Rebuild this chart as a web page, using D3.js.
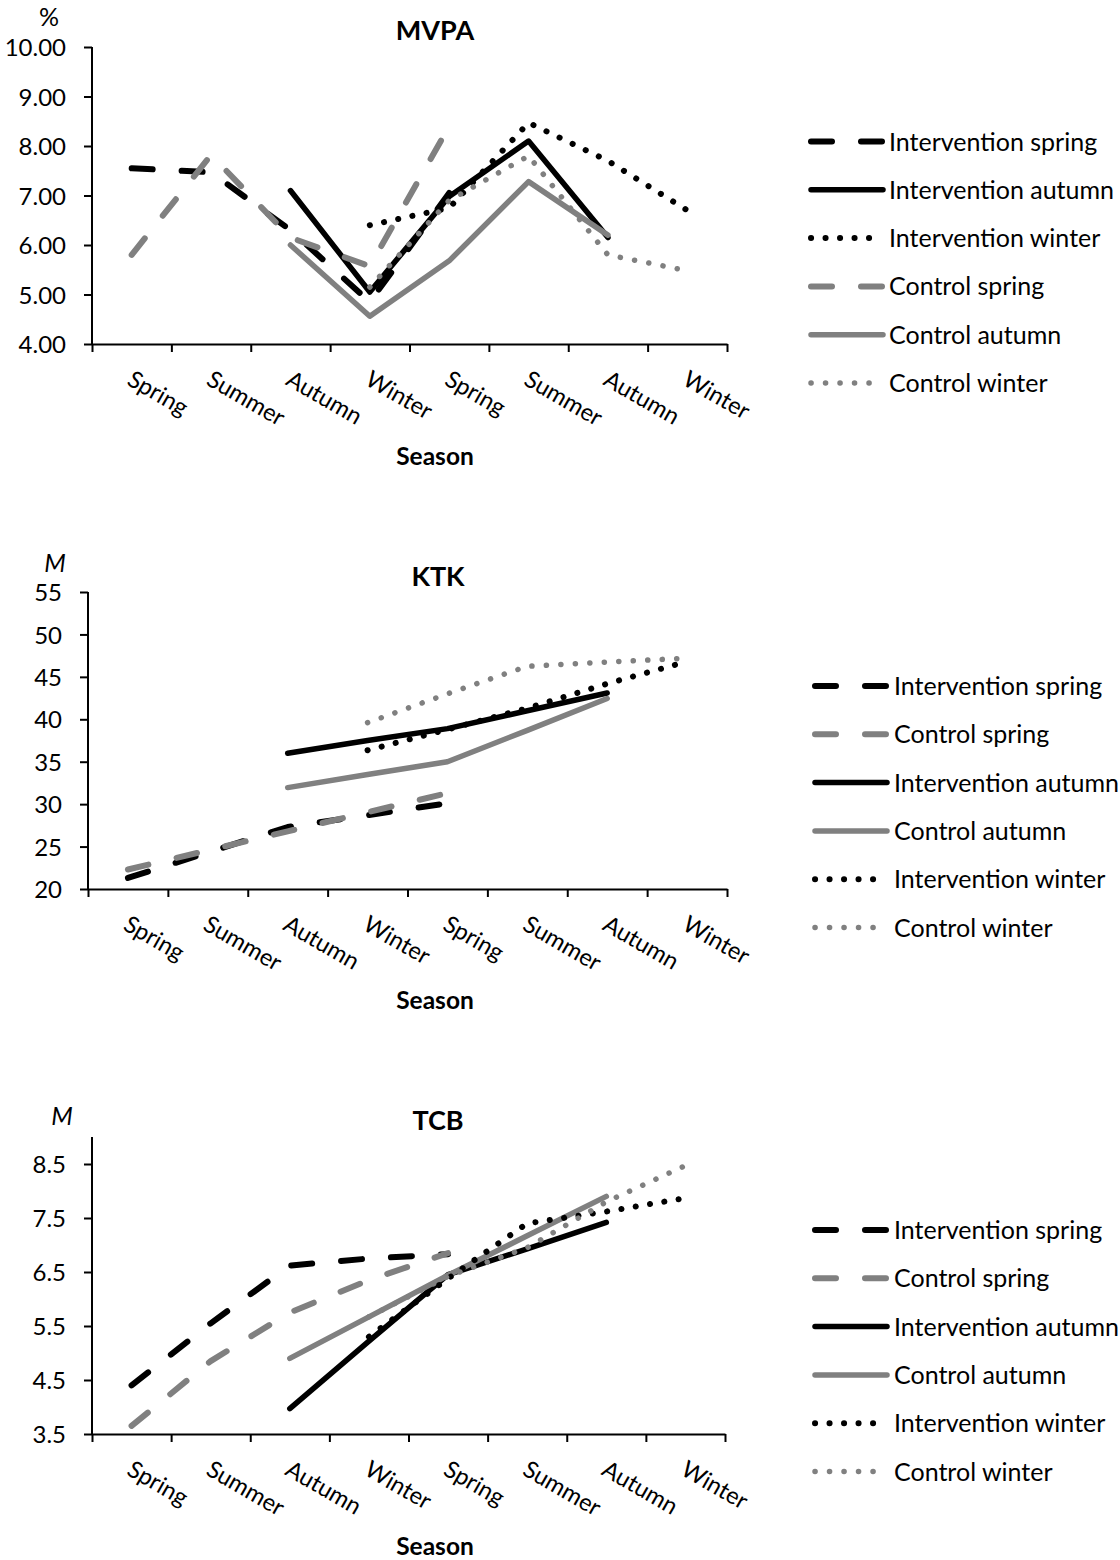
<!DOCTYPE html>
<html><head><meta charset="utf-8">
<script src="https://cdn.jsdelivr.net/npm/d3@7/dist/d3.min.js"></script>
<style>
body{margin:0;background:#fff}
svg{display:block}
text{font-family:Lato,"Open Sans",sans-serif;fill:#000}
</style>
</head><body>
<svg id="chart" width="1120" height="1560"></svg>
<script>
// ---------- DATA ----------
const seasons = ["Spring","Summer","Autumn","Winter","Spring","Summer","Autumn","Winter"];
const seriesNames = ["Intervention spring","Intervention autumn","Intervention winter","Control spring","Control autumn","Control winter"];

// MVPA (%)
const mvpaTicks = [4,5,6,7,8,9,10];
const mvpaInterventionSpring = [7.55,7.47,6.3,4.85,7.05,null,null,null];
const mvpaInterventionAutumn = [null,null,7.1,5.05,6.98,8.1,6.15,null];
const mvpaInterventionWinter = [null,null,null,6.4,6.75,8.47,7.7,6.7];
const mvpaControlSpring = [5.8,7.82,6.15,5.57,8.4,null,null,null];
const mvpaControlAutumn = [null,null,6.0,4.56,5.68,7.28,6.2,null];
const mvpaControlWinter = [null,null,null,5.15,6.9,7.8,5.8,5.48];

// KTK (M)
const ktkTicks = [20,25,30,35,40,45,50,55];
const ktkInterventionSpring = [21.3,24.3,27.3,28.7,30.1,null,null,null];
const ktkControlSpring = [22.3,24.55,26.8,29.05,31.3,null,null,null];
const ktkInterventionAutumn = [null,null,36.0,37.5,38.9,41.0,43.1,null];
const ktkControlAutumn = [null,null,31.95,33.5,35.0,38.7,42.45,null];
const ktkInterventionWinter = [null,null,null,36.35,38.8,41.3,44.2,46.8];
const ktkControlWinter = [null,null,null,39.6,43.0,46.25,46.75,47.2];

// TCB (M)
const tcbTicks = [3.5,4.5,5.5,6.5,7.5,8.5];
const tcbInterventionSpring = [4.4,5.55,6.62,6.75,6.83,null,null,null];
const tcbControlSpring = [3.65,4.85,5.75,6.35,6.85,null,null,null];
const tcbInterventionAutumn = [null,null,3.97,5.22,6.45,6.93,7.42,null];
const tcbControlAutumn = [null,null,4.9,5.67,6.44,7.17,7.9,null];
const tcbInterventionWinter = [null,null,null,5.3,6.38,7.4,7.62,7.87];
const tcbControlWinter = [null,null,null,5.67,6.42,6.95,7.8,8.47];

// ---------- STYLES ----------
const BLACK = "#000", GRAY = "#808080";
const styles = {
  "Intervention spring": {color:BLACK, type:"dash"},
  "Intervention autumn": {color:BLACK, type:"solid"},
  "Intervention winter": {color:BLACK, type:"dot"},
  "Control spring": {color:GRAY, type:"dash"},
  "Control autumn": {color:GRAY, type:"solid"},
  "Control winter": {color:GRAY, type:"dot"}
};
function applyStyle(sel, name){
  const s = styles[name];
  sel.attr("fill","none").attr("stroke",s.color)
     .attr("stroke-linecap","round").attr("stroke-linejoin","round");
  if (s.type==="dash") sel.attr("stroke-width",6).attr("stroke-dasharray","21 29");
  else if (s.type==="dot") sel.attr("stroke-width",s.color===BLACK?6:5.5).attr("stroke-dasharray","0.1 14.4");
  else sel.attr("stroke-width",5.5);
}

const svg = d3.select("#chart");

const panels = [
  {title:"MVPA", unit:"%", unitItalic:false, fmt:d3.format(".2f"), ticks:mvpaTicks, domain:[4,10],
   x0:92, x1:727, yTop:47, yBot:344, titleX:435, titleY:40, unitX:49, unitY:26, seasonY:465,
   legendX:811, legendTextX:889, legendY:141.5,
   series:[["Intervention spring",mvpaInterventionSpring],["Intervention autumn",mvpaInterventionAutumn],
           ["Intervention winter",mvpaInterventionWinter],["Control spring",mvpaControlSpring],
           ["Control autumn",mvpaControlAutumn],["Control winter",mvpaControlWinter]]},
  {title:"KTK", unit:"M", unitItalic:true, fmt:d3.format("d"), ticks:ktkTicks, domain:[20,55],
   x0:88, x1:727, yTop:592, yBot:889, titleX:438, titleY:586, unitX:55, unitY:572, seasonY:1009,
   legendX:815, legendTextX:894, legendY:686,
   series:[["Intervention spring",ktkInterventionSpring],["Control spring",ktkControlSpring],
           ["Intervention autumn",ktkInterventionAutumn],["Control autumn",ktkControlAutumn],
           ["Intervention winter",ktkInterventionWinter],["Control winter",ktkControlWinter]]},
  {title:"TCB", unit:"M", unitItalic:true, fmt:d3.format(".1f"), ticks:tcbTicks, domain:[3.5,9.0],
   x0:92, x1:725, yTop:1137, yBot:1434, titleX:438, titleY:1130, unitX:62, unitY:1125, seasonY:1555,
   legendX:815, legendTextX:894, legendY:1230,
   series:[["Intervention spring",tcbInterventionSpring],["Control spring",tcbControlSpring],
           ["Intervention autumn",tcbInterventionAutumn],["Control autumn",tcbControlAutumn],
           ["Intervention winter",tcbInterventionWinter],["Control winter",tcbControlWinter]]}
];

panels.forEach(p => {
  const g = svg.append("g");
  const idx = d3.range(seasons.length);
  const xBand = d3.scaleBand().domain(idx).range([p.x0,p.x1]);
  const xLin = d3.scaleLinear().domain([0,seasons.length]).range([p.x0,p.x1]);
  const y = d3.scaleLinear().domain(p.domain).range([p.yBot,p.yTop]);
  const cx = i => xBand(i) + xBand.bandwidth()/2;

  // y axis
  const yAxis = g.append("g").attr("transform",`translate(${p.x0},0)`)
    .call(d3.axisLeft(y).tickValues(p.ticks).tickFormat(p.fmt).tickSize(8).tickSizeOuter(0));
  yAxis.select(".domain").attr("stroke","#000").attr("stroke-width",2)
       .attr("d",`M0,${p.yTop}V${p.yBot}`);
  yAxis.selectAll(".tick line").attr("stroke","#000").attr("stroke-width",2);
  yAxis.selectAll(".tick text").attr("x",-26).attr("dy","0.36em")
       .style("font-family","Lato").style("font-size","24px").attr("fill","#000");

  // x axis: tick marks between categories
  const xAxis = g.append("g").attr("transform",`translate(0,${p.yBot})`)
    .call(d3.axisBottom(xLin).tickValues(d3.range(seasons.length+1)).tickFormat("").tickSize(8).tickSizeOuter(0));
  xAxis.select(".domain").attr("stroke","#000").attr("stroke-width",2);
  xAxis.selectAll(".tick line").attr("stroke","#000").attr("stroke-width",2);

  // x labels rotated
  const xLab = g.append("g").attr("transform",`translate(0,${p.yBot})`)
    .call(d3.axisBottom(xBand).tickFormat(i => seasons[i]).tickSize(0));
  xLab.select(".domain").remove();
  xLab.selectAll(".tick text")
    .attr("text-anchor","start").attr("y",0).attr("dy",0)
    .attr("transform","translate(-6,40) rotate(30)")
    .style("font-family","Lato").style("font-size","23.5px").attr("fill","#000");

  // title, unit, axis title
  g.append("text").attr("x",p.titleX).attr("y",p.titleY).attr("text-anchor","middle")
    .style("font-weight","bold").style("font-size","27px").text(p.title);
  g.append("text").attr("x",p.unitX).attr("y",p.unitY).attr("text-anchor","middle")
    .style("font-style",p.unitItalic?"italic":"normal").style("font-size","25px").text(p.unit);
  g.append("text").attr("x",435).attr("y",p.seasonY).attr("text-anchor","middle")
    .style("font-weight","bold").style("font-size","24.5px").text("Season");

  // lines
  const line = d3.line().x(d => cx(d.i)).y(d => y(d.v));
  p.series.forEach(([name, vals]) => {
    const pts = vals.map((v,i)=>({i,v})).filter(d => d.v!=null);
    g.append("path").datum(pts).attr("d",line).call(applyStyle,name);
  });

  // legend
  const step = 48.3;
  p.series.forEach(([name], k) => {
    const ly = p.legendY + k*step;
    g.append("path").attr("d",`M${p.legendX},${ly}H${p.legendX+72}`).call(applyStyle,name);
    g.append("text").attr("x",p.legendTextX).attr("y",ly).attr("dy","0.36em")
      .style("font-size","25px").text(name);
  });
});
</script>
</body></html>
